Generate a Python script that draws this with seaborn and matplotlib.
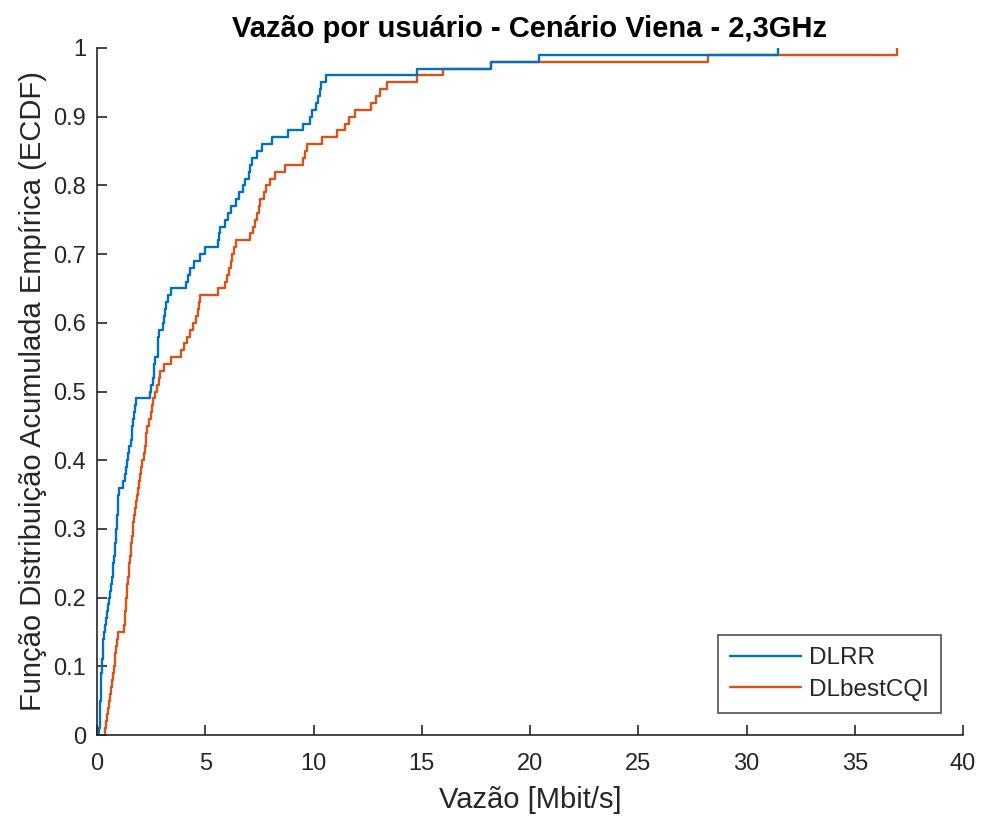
import numpy as np
import pandas as pd
import matplotlib
matplotlib.use("Agg")
import matplotlib.pyplot as plt
import seaborn as sns
from matplotlib.lines import Line2D

dlrr = [0.1, 0.12, 0.14, 0.15, 0.16, 0.17, 0.18, 0.19, 0.2, 0.21,
        0.23, 0.26, 0.28, 0.3, 0.33, 0.35, 0.4, 0.45, 0.5, 0.55,
        0.6, 0.65, 0.7, 0.73, 0.76, 0.8, 0.82, 0.84, 0.87, 0.9,
        0.92, 0.94, 0.96, 0.98, 0.99, 1.0, 1.2, 1.3, 1.35, 1.4,
        1.45, 1.5, 1.55, 1.6, 1.62, 1.65, 1.7, 1.75, 1.8, 2.45,
        2.5, 2.6, 2.62, 2.65, 2.7, 2.8, 2.82, 2.84, 2.85, 3.05,
        3.1, 3.15, 3.2, 3.3, 3.4, 4.1, 4.2, 4.3, 4.5, 4.75,
        5.0, 5.6, 5.65, 5.7, 5.9, 6.05, 6.2, 6.4, 6.55, 6.75,
        6.85, 7.0, 7.05, 7.15, 7.4, 7.6, 8.1, 8.8, 9.5, 9.85,
        9.95, 10.1, 10.2, 10.3, 10.35, 10.6, 14.8, 18.2, 20.4, 31.45]

dlbestcqi = [0.35, 0.4, 0.45, 0.5, 0.55, 0.6, 0.65, 0.7, 0.75, 0.8,
             0.82, 0.85, 0.9, 0.93, 0.95, 1.25, 1.28, 1.3, 1.33, 1.35,
             1.38, 1.4, 1.45, 1.48, 1.5, 1.52, 1.55, 1.58, 1.62, 1.65,
             1.68, 1.7, 1.75, 1.8, 1.85, 1.9, 1.95, 2.0, 2.05, 2.1,
             2.15, 2.2, 2.25, 2.28, 2.3, 2.4, 2.5, 2.55, 2.6, 2.7,
             2.75, 2.85, 2.9, 3.1, 3.4, 3.9, 4.0, 4.15, 4.3, 4.45,
             4.55, 4.65, 4.7, 4.75, 5.6, 5.9, 6.0, 6.1, 6.2, 6.25,
             6.35, 6.4, 7.05, 7.2, 7.3, 7.4, 7.5, 7.55, 7.7, 7.8,
             8.0, 8.2, 8.7, 9.5, 9.6, 9.7, 10.4, 11.1, 11.45, 11.65,
             11.9, 12.65, 12.9, 13.05, 13.4, 14.8, 16.0, 18.2, 28.2, 36.95]

series_names = ["DLRR", "DLbestCQI"]
x_ticks = [0, 5, 10, 15, 20, 25, 30, 35, 40]
y_ticks = [0, 0.1, 0.2, 0.3, 0.4, 0.5, 0.6, 0.7, 0.8, 0.9, 1]
y_tick_labels = ["0", "0.1", "0.2", "0.3", "0.4", "0.5", "0.6", "0.7", "0.8", "0.9", "1"]

df = pd.DataFrame({
    "Vazão": dlrr + dlbestcqi,
    "Serie": [series_names[0]] * len(dlrr) + [series_names[1]] * len(dlbestcqi),
})

sns.set_theme(style="white")
plt.rcParams["font.family"] = ["Liberation Sans", "DejaVu Sans"]
plt.rcParams["xtick.direction"] = "in"
plt.rcParams["ytick.direction"] = "in"

fig = plt.figure(figsize=(9.81, 8.17), dpi=100)
ax = fig.add_axes([97 / 981, 1 - 735 / 817, (963 - 97) / 981, (735 - 48) / 817])

palette = {"DLRR": "#0072BD", "DLbestCQI": "#D95319"}
sns.ecdfplot(data=df, x="Vazão", hue="Serie", hue_order=series_names,
             palette=palette, linewidth=1.7, ax=ax, legend=False)

ax.set_xlim(0, 40)
ax.set_ylim(0, 1)
ax.set_xticks(x_ticks)
ax.set_xticklabels([str(t) for t in x_ticks])
ax.set_yticks(y_ticks)
ax.set_yticklabels(y_tick_labels)

dark = "#262626"
for side in ["top", "right"]:
    ax.spines[side].set_visible(False)
for side in ["left", "bottom"]:
    ax.spines[side].set_color(dark)
    ax.spines[side].set_linewidth(1.2)
ax.tick_params(axis="x", which="major", direction="in", length=7, width=1.2,
               color=dark, labelcolor=dark, labelsize=17, pad=13,
               bottom=True, top=False)
ax.tick_params(axis="y", which="major", direction="in", length=7, width=1.2,
               color=dark, labelcolor=dark, labelsize=17, pad=8,
               left=True, right=False)

ax.set_xlabel("Vazão [Mbit/s]", fontsize=21, color=dark, labelpad=8)
ax.set_ylabel("Função Distribuição Acumulada Empírica (ECDF)", fontsize=21,
              color=dark, labelpad=4)
ax.set_title("Vazão por usuário - Cenário Viena - 2,3GHz", fontsize=21,
             fontweight="bold", color="black", pad=8)

handles = [Line2D([0], [0], color=palette[n], linewidth=1.7) for n in series_names]
leg = ax.legend(handles, series_names, loc="lower right", fontsize=17.5,
                handlelength=2.9, frameon=True, fancybox=False,
                borderaxespad=0.9, labelspacing=0.4, handletextpad=0.35,
                borderpad=0.5)
leg.get_frame().set_edgecolor(dark)
leg.get_frame().set_linewidth(1.2)

fig.savefig("out.png", dpi=100, facecolor="white")
